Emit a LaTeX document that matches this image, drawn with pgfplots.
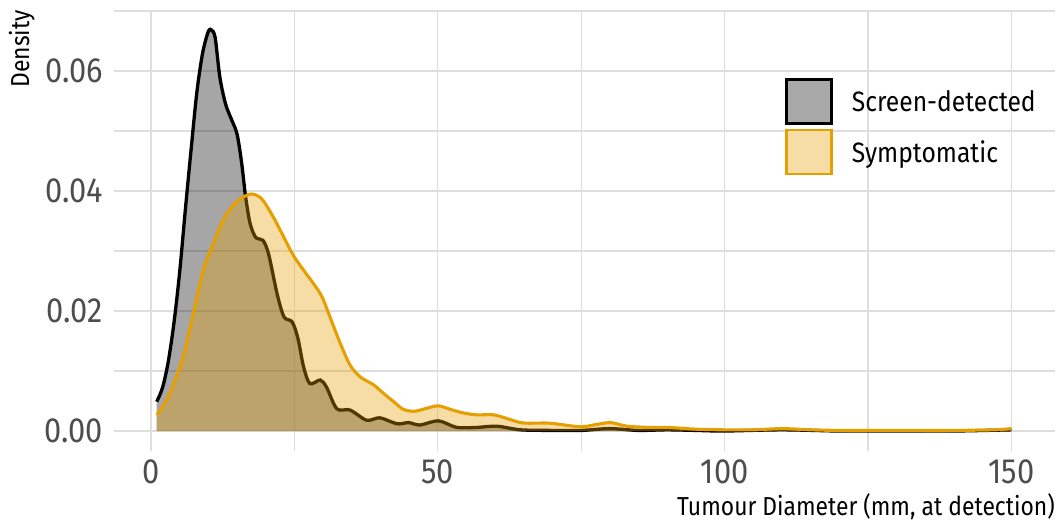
\documentclass[border=0pt]{standalone}
\usepackage{pgfplots}
\pgfplotsset{compat=1.18}
\usepackage{pgfplotstable}
\usepackage{fontspec}
\setmainfont{Fira Sans}[FakeStretch=0.88]
\definecolor{tickgray}{RGB}{77,77,77}
\definecolor{orng}{HTML}{E69F00}
\definecolor{gridc}{RGB}{222,222,222}

\pgfplotstableread{
x y
1 0.0049
2 0.0072
3 0.0115
4 0.0180
5 0.0265
6 0.0370
7 0.0470
8 0.0565
9 0.0630
10 0.0666
10.6 0.0668
11.2 0.0655
12 0.0590
13 0.0545
14 0.0520
15 0.0495
15.8 0.0447
16.5 0.0390
17.3 0.0345
18.3 0.0322
19.5 0.0318
20.5 0.0295
22 0.0228
23.2 0.0190
24.6 0.0182
25.6 0.0155
26.6 0.0107
27.7 0.0079
29.5 0.0085
30.6 0.0073
32.4 0.0037
34.7 0.0035
37.6 0.0018
39.9 0.0022
42.9 0.0012
44.9 0.0014
46.9 0.0010
50.1 0.0017
53.3 0.0006
56.8 0.0006
60.3 0.0008
64.4 0.0002
70 0.0001
75 0.0001
80 0.0004
85 0.0001
90 0.0002
95 0.0001
100 0.0000
110 0.0002
120 0.0000
130 0.0000
140 0.0000
150 0.0002
}\screen

\pgfplotstableread{
x y
1 0.0027
2 0.0040
3.3 0.0063
4.5 0.0093
5.6 0.0124
7.4 0.0196
9.1 0.0268
10.9 0.0313
12.6 0.0352
14.4 0.0377
16.1 0.0390
17.6 0.0395
19.3 0.0387
21.3 0.0357
23.1 0.0324
24.8 0.0293
26.6 0.0268
28.3 0.0246
29.8 0.0224
31.2 0.0190
33 0.0146
34.7 0.0110
36.5 0.0090
38.8 0.0077
40.5 0.0063
42.3 0.0049
44 0.0036
46 0.0033
48.1 0.0038
50.1 0.0042
52.2 0.0036
54.5 0.0030
56.8 0.0027
59.7 0.0027
62 0.0021
64.4 0.0014
66.1 0.0013
69.6 0.0013
74.8 0.0007
77.1 0.0010
80.1 0.0014
83 0.0008
87 0.0006
90 0.0006
95.2 0.0003
100 0.0002
105 0.0002
110 0.0004
115 0.0002
120 0.0001
130 0.0001
140 0.0001
147 0.0002
150 0.0004
}\sympt

\begin{document}
\begin{tikzpicture}
\useasboundingbox (-114bp,-71bp) rectangle (943bp,451bp);
\begin{axis}[
  at={(0,0)}, anchor=south west,
  scale only axis, width=941bp, height=441bp,
  xmin=-6.45, xmax=157.6, ymin=-0.00333, ymax=0.07017,
  xtick={0,50,100,150}, ytick={0,0.02,0.04,0.06},
  minor xtick={25,75,125}, minor ytick={0.01,0.03,0.05,0.07},
  scaled y ticks=false,
  /pgf/number format/assume math mode=true,
  yticklabel style={/pgf/number format/fixed, /pgf/number format/fixed zerofill, /pgf/number format/precision=2},
  grid=both,
  major grid style={line width=1.1bp, draw=gridc},
  minor grid style={line width=1.1bp, draw=gridc},
  axis line style={draw=none},
  tick style={draw=none},
  major tick length=0pt, minor tick length=0pt,
  ticklabel style={font=\fontsize{35bp}{40bp}\selectfont, text=tickgray, inner sep=0pt},
  xticklabel style={anchor=base, yshift=-32bp},
  yticklabel style={anchor=east, xshift=-11bp},
  xlabel={Tumour Diameter (mm, at detection)},
  ylabel={Density},
  xlabel style={font=\fontsize{26bp}{30bp}\selectfont, at={(rel axis cs:1,0)}, anchor=base east, yshift=-64.5bp, inner sep=0pt},
  ylabel style={font=\fontsize{26bp}{30bp}\selectfont, at={(axis description cs:-0.0903,1)}, anchor=base east, inner sep=0pt},
  legend style={at={(rel axis cs:0.713,0.846)}, anchor=north west, draw=none, fill=none,
    inner sep=0pt, outer sep=0pt, row sep=4bp, column sep=19bp,
    nodes={inner sep=0pt, font=\fontsize{28bp}{32bp}\selectfont}},
  legend cell align=left,
]
\addplot[draw=none, fill=black, fill opacity=0.35, smooth,
  legend image code/.code={\draw[fill=black!34, fill opacity=1, draw=black, line width=3.2bp] (1.6bp,-21.8bp) rectangle (46.4bp,21.8bp);}]
  table[x=x,y=y]{\screen} \closedcycle;
\addlegendentry{Screen-detected}
\addplot[black, line width=3.3bp, smooth, forget plot] table[x=x,y=y]{\screen};
\addplot[draw=none, fill=orng, fill opacity=0.35, smooth,
  legend image code/.code={\draw[fill=orng!35, fill opacity=1, draw=orng, line width=2.6bp] (1.3bp,-22bp) rectangle (46.7bp,22bp);}]
  table[x=x,y=y]{\sympt} \closedcycle;
\addlegendentry{Symptomatic}
\addplot[orng, line width=3.1bp, smooth, forget plot] table[x=x,y=y]{\sympt};
\end{axis}
\end{tikzpicture}
\end{document}
